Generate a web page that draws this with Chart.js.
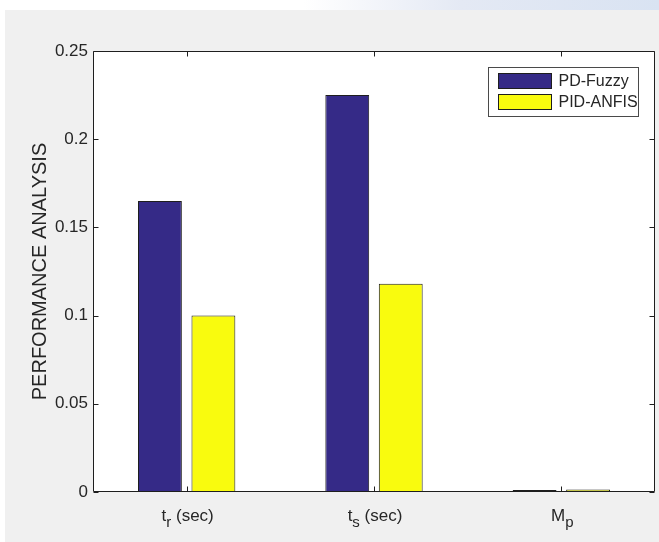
<!DOCTYPE html>
<html>
<head>
<meta charset="utf-8">
<script src="https://cdn.jsdelivr.net/npm/chart.js@4"></script>
<style>
  html, body { margin: 0; padding: 0; background: #ffffff; }
  #band { position: absolute; left: 0; top: 0; width: 659px; height: 10px;
          background: linear-gradient(90deg, #ffffff 0%, #ffffff 46%, #e4e9f4 70%, #d9e3f2 100%); }
  #fig { position: absolute; left: 5px; top: 10px; width: 654px; height: 532px; background: #f0f0f0; }
  canvas { display: block; }
</style>
</head>
<body>
<div id="band"></div>
<div id="fig"><canvas id="c" width="654" height="532"></canvas></div>
<script>
// Performance indices per controller (rise time, settling time, overshoot)
const categories = ['t_r (sec)', 't_s (sec)', 'M_p'];
const seriesNames = ['PD-Fuzzy', 'PID-ANFIS'];
const pdFuzzy = [0.165, 0.225, 0.0012];
const pidAnfis = [0.100, 0.118, 0.0014];
const yTicks = [0, 0.05, 0.1, 0.15, 0.2, 0.25];
const yTickLabels = ['0', '0.05', '0.1', '0.15', '0.2', '0.25'];
const yTitle = 'PERFORMANCE ANALYSIS';

const FONT = '"Liberation Sans", Arial, Helvetica, sans-serif';
const INK = '#262626';

// White axes background behind the bars
const axesBackground = {
  id: 'axesBackground',
  beforeDatasetsDraw(chart) {
    const { ctx, chartArea: a } = chart;
    ctx.save();
    ctx.fillStyle = '#ffffff';
    ctx.fillRect(a.left, a.top, a.right - a.left, a.bottom - a.top);
    ctx.restore();
  }
};

// Axes box, inward tick marks, subscripted category labels and the legend
const axesDecor = {
  id: 'axesDecor',
  afterDraw(chart) {
    const { ctx, chartArea: a, scales: { x, y } } = chart;
    const L = Math.round(a.left) + 0.5, R = Math.round(a.right) - 0.5;
    const T = Math.round(a.top) + 0.5, B = Math.round(a.bottom) - 0.5;
    ctx.save();
    ctx.strokeStyle = '#1e1e1e';
    ctx.lineWidth = 1;
    ctx.beginPath();
    ctx.rect(L, T, R - L, B - T);
    // y ticks on both sides
    yTicks.forEach(v => {
      const py = Math.round(y.getPixelForValue(v)) + 0.5;
      ctx.moveTo(L, py); ctx.lineTo(L + 5, py);
      ctx.moveTo(R, py); ctx.lineTo(R - 5, py);
    });
    // x ticks top and bottom
    categories.forEach((c, i) => {
      const px = Math.round(x.getPixelForValue(i)) + 0.5;
      ctx.moveTo(px, B); ctx.lineTo(px, B - 5);
      ctx.moveTo(px, T); ctx.lineTo(px, T + 5);
    });
    ctx.stroke();

    // category labels with subscripts
    ctx.fillStyle = INK;
    ctx.textBaseline = 'alphabetic';
    ctx.textAlign = 'left';
    const mainFont = '17px ' + FONT, subFont = '15px ' + FONT;
    categories.forEach((c, i) => {
      const k = c.indexOf('_');
      const base = k >= 0 ? c.slice(0, k) : c;
      const sub = k >= 0 ? c.charAt(k + 1) : '';
      const rest = k >= 0 ? c.slice(k + 2) : '';
      ctx.font = mainFont;
      const wb = ctx.measureText(base).width, wr = ctx.measureText(rest).width;
      ctx.font = subFont;
      const ws = ctx.measureText(sub).width;
      const total = wb + ws + wr;
      let px = x.getPixelForValue(i) - total / 2 + 1;
      const by = a.bottom + 29;
      ctx.font = mainFont; ctx.fillText(base, px, by); px += wb;
      ctx.font = subFont; ctx.fillText(sub, px, by + 6); px += ws;
      ctx.font = mainFont; ctx.fillText(rest, px, by);
    });

    // legend
    const bw = 150, bh = 49;
    const bx = Math.round(a.right) - 17 - bw + 0.5, byy = Math.round(a.top) + 16 + 0.5;
    ctx.fillStyle = '#ffffff';
    ctx.fillRect(bx, byy, bw, bh);
    ctx.strokeStyle = '#4a4a4a';
    ctx.strokeRect(bx, byy, bw, bh);
    chart.data.datasets.forEach((ds, i) => {
      const sy = byy + 6 + i * 21;
      ctx.fillStyle = ds.backgroundColor;
      ctx.fillRect(bx + 10, sy, 53, 15);
      ctx.strokeStyle = '#1e1e1e';
      ctx.strokeRect(bx + 10, sy, 53, 15);
      ctx.fillStyle = INK;
      ctx.font = '16px ' + FONT;
      ctx.textBaseline = 'middle';
      ctx.fillText(ds.label, bx + 70, sy + 8);
    });
    ctx.restore();
  }
};

new Chart(document.getElementById('c'), {
  type: 'bar',
  data: {
    labels: categories,
    datasets: [
      { label: seriesNames[0], data: pdFuzzy, backgroundColor: '#352a87',
        borderColor: '#1e1e1e', borderWidth: 1, borderSkipped: false },
      { label: seriesNames[1], data: pidAnfis, backgroundColor: '#f9fb0e',
        borderColor: '#1e1e1e', borderWidth: 1, borderSkipped: false }
    ]
  },
  options: {
    responsive: false,
    animation: false,
    devicePixelRatio: 1,
    categoryPercentage: 0.571,
    barPercentage: 0.82,
    layout: { padding: { top: 41, right: 4, left: 0, bottom: 0 } },
    plugins: { legend: { display: false }, tooltip: { enabled: false } },
    scales: {
      x: {
        grid: { display: false, drawTicks: false },
        border: { display: false },
        ticks: { display: false },
        afterFit(s) { s.height = 50; }
      },
      y: {
        min: 0, max: 0.25,
        grid: { display: false, drawTicks: false },
        border: { display: false },
        afterBuildTicks(s) { s.ticks = yTicks.map(v => ({ value: v })); },
        ticks: {
          padding: 5, color: INK,
          font: { family: FONT, size: 17 },
          callback: (v, i) => yTickLabels[i]
        },
        title: {
          display: true, text: yTitle, color: INK,
          font: { family: FONT, size: 20 },
          padding: { top: 23, bottom: 0 }
        },
        afterFit(s) { s.width = 88; }
      }
    }
  },
  plugins: [axesBackground, axesDecor]
});
</script>
</body>
</html>
